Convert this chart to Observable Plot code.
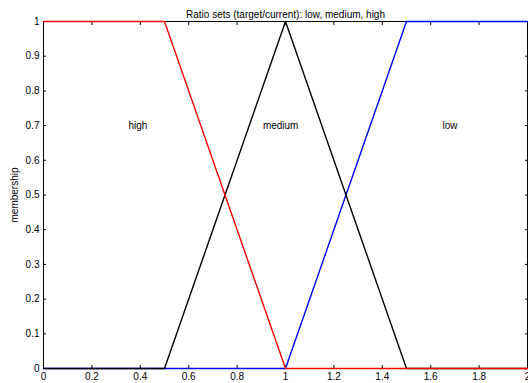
<!DOCTYPE html>
<html>
<head>
<meta charset="utf-8">
<script src="https://cdn.jsdelivr.net/npm/d3@7"></script>
<script src="https://cdn.jsdelivr.net/npm/@observablehq/plot@0.6"></script>
<style>
  html, body { margin: 0; padding: 0; background: #fff; }
</style>
</head>
<body>
<div id="chart"></div>
<script>
const xs = [0, 0.5, 1, 1.5, 2];
const low = [0, 0, 0, 1, 1];
const medium = [0, 0, 1, 0, 0];
const high = [1, 1, 0, 0, 0];
const seriesNames = ["low", "medium", "high"];
const seriesColors = ["#0000ff", "#000000", "#ff0000"];
const labelNames = ["high", "medium", "low"];
const labelX = [0.39, 0.98, 1.68];
const labelY = [0.7, 0.7, 0.7];
const xTicks = [0, 0.2, 0.4, 0.6, 0.8, 1, 1.2, 1.4, 1.6, 1.8, 2];
const yTicks = [0, 0.1, 0.2, 0.3, 0.4, 0.5, 0.6, 0.7, 0.8, 0.9, 1];
const title = "Ratio sets (target/current): low, medium, high";
const yLabel = "membership";

const seriesValues = [low, medium, high];
const rows = [];
seriesNames.forEach((name, i) => {
  xs.forEach((x, j) => rows.push({series: name, x, y: seriesValues[i][j]}));
});
const labels = labelNames.map((t, i) => ({t, x: labelX[i], y: labelY[i]}));

const plot = Plot.plot({
  width: 528,
  height: 383,
  marginLeft: 43,
  marginRight: 1,
  marginTop: 21,
  marginBottom: 15,
  style: {fontFamily: "'Liberation Sans', Arial, Helvetica, sans-serif", fontSize: "10px", background: "#fff", color: "#000"},
  x: {domain: [0, 2]},
  y: {domain: [0, 1]},
  color: {domain: seriesNames, range: seriesColors},
  marks: [
    Plot.ruleX([0, 2], {stroke: "#000"}),
    Plot.ruleY([0, 1], {stroke: "#000"}),
    Plot.axisX({anchor: "bottom", ticks: xTicks, tickSize: 0, tickPadding: 4, tickFormat: d => String(d), label: null}),
    Plot.axisX({anchor: "bottom", ticks: xTicks, tickSize: -3, tickFormat: () => "", label: null}),
    Plot.axisX({anchor: "top", ticks: xTicks, tickSize: -3, tickFormat: () => "", label: null}),
    Plot.axisY({anchor: "left", ticks: yTicks, tickSize: 0, tickPadding: 4, tickFormat: d => String(d), label: yLabel, labelAnchor: "center", labelOffset: 33, labelArrow: false}),
    Plot.axisY({anchor: "left", ticks: yTicks, tickSize: -3, tickFormat: () => "", label: null}),
    Plot.axisY({anchor: "right", ticks: yTicks, tickSize: -3, tickFormat: () => "", label: null}),
    Plot.text(labels, {x: "x", y: "y", text: "t", fill: "#000"}),
    Plot.text([title], {frameAnchor: "top", dy: -11, text: d => d, fill: "#000"}),
    Plot.line(rows, {x: "x", y: "y", z: "series", stroke: "series", strokeWidth: 1.4})
  ]
});
document.getElementById("chart").appendChild(plot);
</script>
</body>
</html>
